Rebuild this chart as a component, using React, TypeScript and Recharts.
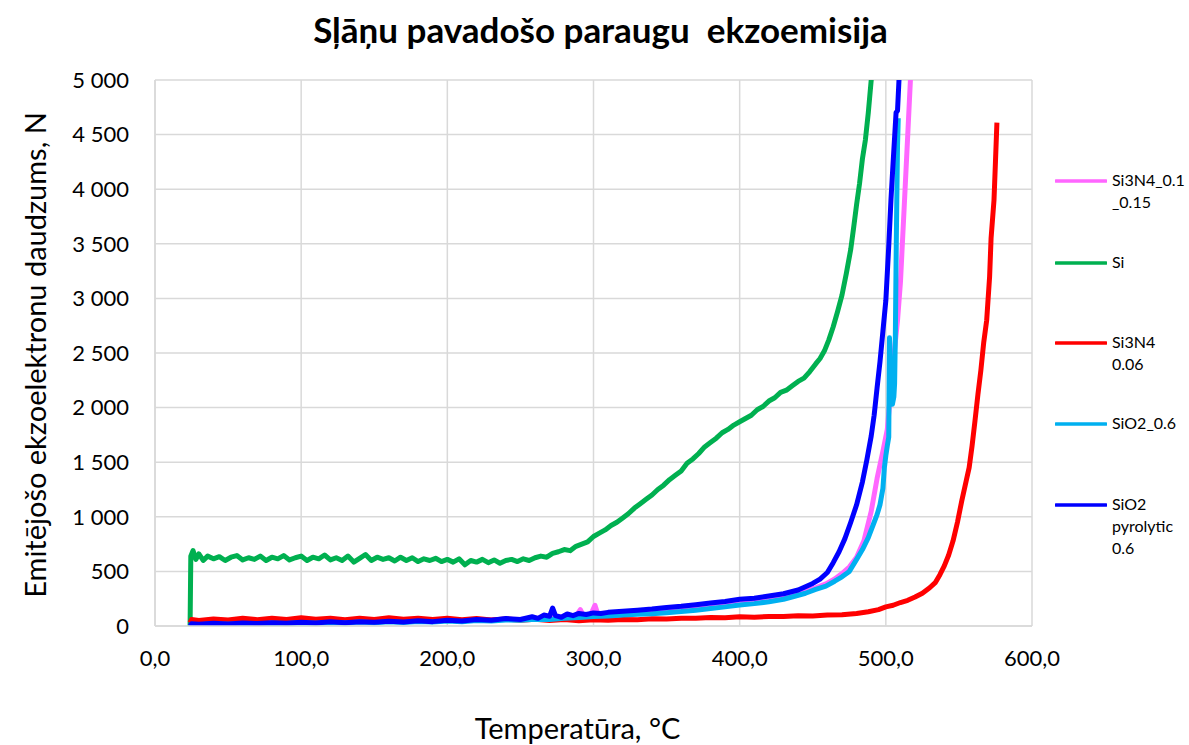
import React from 'react';
import { LineChart, Line, XAxis, YAxis, CartesianGrid } from 'recharts';

// temperature (°C) and counts (N)
const pinkT = [24, 25, 30, 40, 50, 60, 70, 80, 90, 100, 110, 120, 130, 140, 150, 160, 170, 180, 190, 200, 210, 220, 230, 240, 250, 260, 270, 280, 288, 291, 293, 298, 301, 303, 310, 320, 330, 340, 350, 360, 370, 380, 390, 400, 410, 420, 430, 437, 445, 452, 459, 465, 470, 475, 480, 485, 490, 494, 498, 501, 503, 505.5, 508, 510, 512.5, 515, 517, 518];
const pinkN = [0, 25, 18, 28, 22, 30, 25, 35, 28, 38, 32, 40, 35, 42, 38, 46, 40, 50, 45, 55, 50, 58, 55, 62, 60, 70, 75, 85, 90, 150, 95, 100, 190, 105, 110, 115, 120, 128, 135, 145, 158, 170, 185, 205, 220, 240, 265, 290, 320, 350, 385, 430, 480, 540, 630, 780, 1050, 1350, 1600, 1800, 2100, 2470, 2800, 3150, 3820, 4500, 5050, 5200];

const siT = [24, 24.5, 26, 28, 30, 33, 36, 40, 44, 48, 52, 56, 60, 64, 68, 72, 76, 80, 84, 88, 92, 96, 100, 104, 108, 112, 116, 120, 124, 128, 132, 136, 140, 144, 148, 152, 156, 160, 164, 168, 172, 176, 180, 184, 188, 192, 196, 200, 204, 208, 212, 216, 220, 224, 228, 232, 236, 240, 244, 248, 252, 256, 260, 264, 268, 272, 276, 280, 284, 288, 292, 296, 300, 304, 308, 312, 316, 320, 324, 328, 332, 336, 340, 344, 348, 352, 356, 360, 364, 368, 372, 376, 380, 384, 388, 392, 396, 400, 404, 408, 412, 416, 420, 424, 428, 432, 436, 440, 444, 448, 452, 455, 458, 461, 464, 467, 470, 473, 476, 478, 480, 482, 484, 486, 488, 489, 490, 491];
const siN = [0, 640, 690, 610, 660, 600, 640, 615, 635, 600, 630, 645, 605, 625, 610, 640, 600, 630, 615, 645, 605, 625, 640, 600, 630, 615, 650, 605, 625, 600, 640, 585, 620, 655, 600, 630, 610, 625, 595, 630, 600, 625, 590, 615, 600, 620, 590, 610, 585, 615, 560, 600, 585, 610, 580, 605, 575, 600, 610, 590, 615, 600, 625, 640, 630, 665, 680, 700, 690, 730, 750, 770, 820, 850, 880, 920, 950, 990, 1030, 1080, 1120, 1160, 1200, 1250, 1290, 1340, 1380, 1420, 1490, 1530, 1580, 1640, 1680, 1720, 1770, 1800, 1840, 1870, 1900, 1930, 1980, 2010, 2060, 2090, 2140, 2160, 2200, 2240, 2270, 2330, 2400, 2450, 2520, 2620, 2740, 2880, 3030, 3230, 3450, 3650, 3860, 4050, 4280, 4450, 4700, 4850, 5000, 5150];

const redT = [24, 25, 30, 40, 50, 60, 70, 80, 90, 100, 110, 120, 130, 140, 150, 160, 170, 180, 190, 200, 210, 220, 230, 240, 250, 260, 270, 280, 290, 300, 310, 320, 330, 340, 350, 360, 370, 380, 390, 400, 410, 420, 430, 440, 450, 460, 470, 480, 488, 495, 500, 505, 510, 515, 520, 525, 530, 534, 537, 540, 543, 546, 549, 552, 555, 557, 559, 561, 563, 565, 567, 569, 571, 572, 574, 575, 576];
const redN = [30, 60, 50, 65, 55, 70, 58, 72, 60, 75, 62, 70, 58, 72, 60, 75, 62, 72, 60, 70, 58, 68, 55, 65, 52, 62, 50, 60, 48, 58, 52, 60, 58, 66, 64, 72, 70, 78, 76, 84, 80, 88, 86, 94, 92, 100, 104, 115, 130, 150, 175, 190, 215, 235, 265, 300, 350, 400, 470, 550, 650, 780, 950, 1150, 1330, 1450, 1650, 1880, 2120, 2340, 2600, 2800, 3200, 3550, 3900, 4250, 4610];

const cyanT = [24, 25, 30, 40, 50, 60, 70, 80, 90, 100, 110, 120, 130, 140, 150, 160, 170, 180, 190, 200, 210, 220, 230, 240, 250, 260, 270, 280, 290, 300, 310, 320, 330, 340, 350, 360, 370, 380, 390, 400, 410, 420, 430, 437, 445, 452, 459, 465, 470, 475, 480, 484, 488, 492, 494, 496, 498, 499, 500, 501, 502, 502.5, 503, 504.5, 505.5, 506, 506.5, 507, 507.5, 508, 508.5];
const cyanN = [0, 15, 12, 20, 15, 24, 18, 26, 22, 30, 25, 32, 28, 36, 30, 38, 33, 42, 36, 45, 40, 50, 45, 55, 52, 62, 60, 72, 78, 88, 92, 100, 108, 112, 122, 132, 145, 160, 175, 192, 205, 222, 245, 270, 300, 335, 365, 410, 450, 500, 610, 700, 810, 950, 1020, 1110, 1260, 1450, 1560, 1650, 1730, 2640, 2400, 2030, 2100, 2220, 2650, 3320, 3900, 4400, 4650];

const blueT = [24, 25, 30, 40, 50, 60, 70, 80, 90, 100, 110, 120, 130, 140, 150, 160, 170, 180, 190, 200, 210, 220, 230, 240, 250, 258, 262, 266, 270, 272, 274, 278, 282, 286, 290, 295, 300, 305, 310, 320, 330, 340, 350, 360, 370, 380, 390, 400, 410, 420, 430, 440, 450, 455, 460, 464, 468, 472, 476, 480, 484, 487, 490, 492, 494, 496, 498, 500, 502, 503.5, 505, 507, 508, 509, 510];
const blueN = [0, 20, 15, 25, 18, 28, 22, 30, 25, 35, 28, 38, 30, 40, 34, 44, 36, 48, 40, 52, 45, 60, 52, 68, 60, 85, 70, 100, 90, 165, 95, 80, 110, 95, 115, 105, 120, 115, 125, 135, 145, 155, 170, 180, 195, 210, 225, 245, 255, 275, 295, 330, 390, 430, 490, 580, 680, 800, 950, 1110, 1320, 1520, 1740, 1930, 2180, 2420, 2700, 2980, 3480, 3900, 4250, 4700, 4720, 5000, 5200];

const seriesNames = ['Si3N4_0.1_0.15', 'Si', 'Si3N4 0.06', 'SiO2_0.6', 'SiO2 pyrolytic 0.6'];
const legendLines = [['Si3N4_0.1', '_0.15'], ['Si'], ['Si3N4', '0.06'], ['SiO2_0.6'], ['SiO2', 'pyrolytic', '0.6']];
const colors = ['#FF66FF', '#00B050', '#FF0000', '#00B0F0', '#0000FF'];

const xTicks = [0, 100, 200, 300, 400, 500, 600];
const yTicks = [0, 500, 1000, 1500, 2000, 2500, 3000, 3500, 4000, 4500, 5000];

const toRows = (t: number[], n: number[]) => t.map((v, i) => ({ t: v, n: n[i] }));
const series = [
  toRows(pinkT, pinkN),
  toRows(siT, siN),
  toRows(redT, redN),
  toRows(cyanT, cyanN),
  toRows(blueT, blueN),
];

const FONT = 'Lato, "Open Sans", sans-serif';
const fmtX = (v: number) => v.toFixed(1).replace('.', ',');
const fmtY = (v: number) => String(v).replace(/\B(?=(\d{3})+(?!\d))/g, ' ');

const legendTops = [169, 251, 331, 412, 493]; // top of each legend block

export default function App() {
  return (
    <div style={{ position: 'absolute', left: 0, top: 0, width: 1189, height: 745, background: '#fff', fontFamily: FONT, overflow: 'hidden' }}>
      <div style={{ position: 'absolute', left: 6, width: 1189, top: 8, textAlign: 'center', fontWeight: 700, fontSize: 35, lineHeight: 1.2, color: '#000', whiteSpace: 'pre' }}>
        Sļāņu pavadošo paraugu  ekzoemisija
      </div>
      <LineChart width={1189} height={745} margin={{ top: 80, right: 157, bottom: 0, left: 0 }}>
        <CartesianGrid stroke="#d9d9d9" strokeWidth={1.5} />
        <XAxis
          dataKey="t"
          type="number"
          domain={[0, 600]}
          ticks={xTicks}
          tickFormatter={fmtX}
          height={119}
          axisLine={{ stroke: '#d9d9d9', strokeWidth: 1.5 }}
          tickLine={false}
          tickSize={0}
          tickMargin={24}
          tick={{ fill: '#000', fontSize: 22, fontFamily: FONT }}
          allowDuplicatedCategory={false}
        />
        <YAxis
          type="number"
          domain={[0, 5000]}
          ticks={yTicks}
          tickFormatter={fmtY}
          allowDataOverflow
          width={155}
          axisLine={{ stroke: '#d9d9d9', strokeWidth: 1.5 }}
          tickLine={false}
          tickSize={0}
          tickMargin={26}
          tick={{ fill: '#000', fontSize: 22, fontFamily: FONT }}
        />
        {series.map((d, i) => (
          <Line
            key={seriesNames[i]}
            data={d}
            dataKey="n"
            name={seriesNames[i]}
            type="linear"
            stroke={colors[i]}
            strokeWidth={5}
            strokeLinejoin="round"
            dot={false}
            isAnimationActive={false}
          />
        ))}
      </LineChart>
      <div style={{ position: 'absolute', left: 0, top: 711, width: 1189, textAlign: 'center', fontSize: 29, lineHeight: 1.2, color: '#000' }}>
        <span style={{ position: 'relative', left: -17 }}>Temperatūra, °C</span>
      </div>
      <div style={{ position: 'absolute', left: 35, top: 355, transform: 'translate(-50%, -50%) rotate(-90deg)', fontSize: 29, lineHeight: 1.2, color: '#000', whiteSpace: 'nowrap' }}>
        Emitējošo ekzoelektronu daudzums, N
      </div>
      {legendLines.map((lines, i) => (
        <div key={seriesNames[i]} style={{ position: 'absolute', left: 1055, top: legendTops[i], display: 'flex', alignItems: 'flex-start' }}>
          <svg width={52} height={24} style={{ flex: 'none' }}>
            <line x1={1} y1={12} x2={51} y2={12} stroke={colors[i]} strokeWidth={3.5} strokeLinecap="round" />
          </svg>
          <div style={{ marginLeft: 5, fontSize: 16, lineHeight: '22px', color: '#000' }}>
            {lines.map((l) => (
              <div key={l}>{l}</div>
            ))}
          </div>
        </div>
      ))}
    </div>
  );
}
